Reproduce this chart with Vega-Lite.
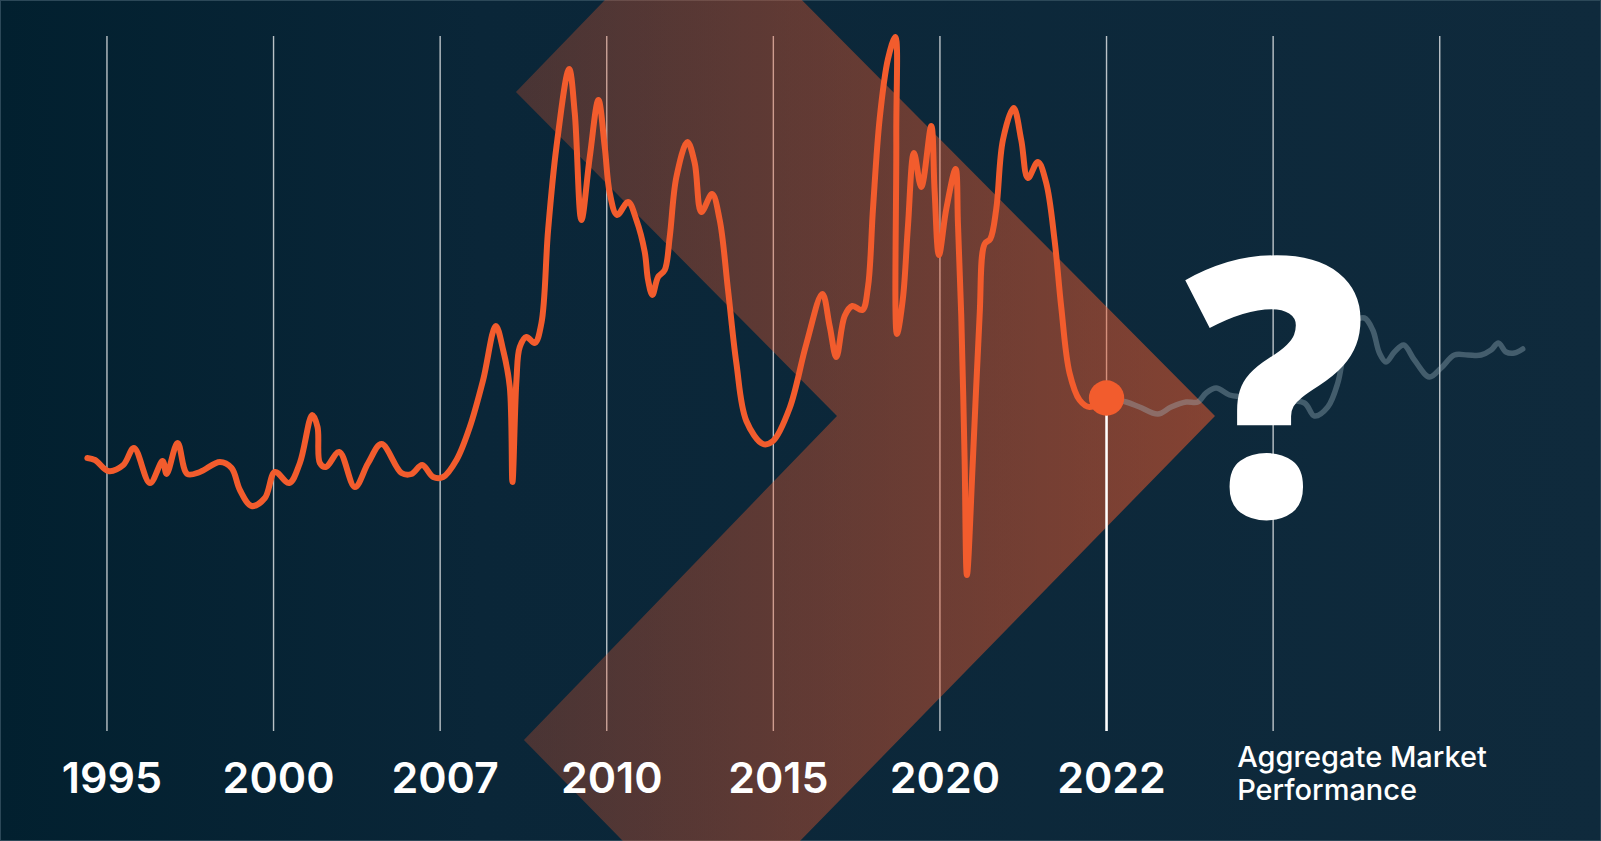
{
  "$schema": "https://vega.github.io/schema/vega-lite/v6.json",
  "width": 1601,
  "height": 841,
  "autosize": {"type": "fit", "contains": "padding"},
  "padding": 0,
  "background": "#0b2638",
  "view": {
    "fill": {"gradient": "linear", "x1": 0, "y1": 0, "x2": 1, "y2": 0,
      "stops": [{"offset": 0, "color": "#02202f"}, {"offset": 0.3, "color": "#0a2638"}, {"offset": 1, "color": "#0f2a3c"}]},
    "stroke": "#2c4858",
    "strokeWidth": 2
  },
  "datasets": {
    "grid": [{"t": 0}, {"t": 100}, {"t": 200}, {"t": 300}, {"t": 400}, {"t": 500}, {"t": 600}, {"t": 700}, {"t": 800}],
    "labels": [
      {"t": 0, "label": "1995"}, {"t": 100, "label": "2000"}, {"t": 200, "label": "2007"},
      {"t": 300, "label": "2010"}, {"t": 400, "label": "2015"}, {"t": 500, "label": "2020"}, {"t": 600, "label": "2022"}
    ],
    "now": [{"t": 600, "v": 44.3}],
    "chevron": [
      {"i": 0, "t": 298.9, "v": 84.1}, {"i": 1, "t": 417.1, "v": 84.1}, {"i": 2, "t": 665.1, "v": 42.5},
      {"i": 3, "t": 416.0, "v": 0}, {"i": 4, "t": 309.7, "v": 0}, {"i": 5, "t": 250.3, "v": 10.1},
      {"i": 6, "t": 438.2, "v": 42.5}, {"i": 7, "t": 245.5, "v": 74.9}, {"i": 8, "t": 298.9, "v": 84.1}
    ],
    "orange": [
      {"t": -11.8, "v": 38.3}, {"t": -7.2, "v": 38.1}, {"t": 0.8, "v": 37.0}, {"t": 9.8, "v": 37.6},
      {"t": 16.2, "v": 39.3}, {"t": 25.8, "v": 35.8}, {"t": 33.4, "v": 38.0}, {"t": 35.8, "v": 36.7},
      {"t": 42.4, "v": 39.8}, {"t": 48.2, "v": 36.7}, {"t": 55.8, "v": 36.9}, {"t": 67.8, "v": 37.9},
      {"t": 74.8, "v": 37.3}, {"t": 79.8, "v": 35.1}, {"t": 86.8, "v": 33.5}, {"t": 94.8, "v": 34.3},
      {"t": 100.8, "v": 36.9}, {"t": 109.4, "v": 35.8}, {"t": 115.8, "v": 37.8}, {"t": 123.2, "v": 42.6},
      {"t": 126.4, "v": 41.4}, {"t": 127.8, "v": 37.8}, {"t": 131.4, "v": 37.4}, {"t": 139.4, "v": 38.9},
      {"t": 148.8, "v": 35.4}, {"t": 156.8, "v": 37.8}, {"t": 164.8, "v": 39.7}, {"t": 176.8, "v": 36.8},
      {"t": 182.8, "v": 36.7}, {"t": 189.2, "v": 37.6}, {"t": 195.8, "v": 36.4}, {"t": 201.8, "v": 36.4},
      {"t": 209.8, "v": 38.1}, {"t": 217.8, "v": 41.4}, {"t": 225.8, "v": 46.1}, {"t": 233.4, "v": 51.5},
      {"t": 237.8, "v": 49.1}, {"t": 241.8, "v": 45.4}, {"t": 243.4, "v": 35.9}, {"t": 245.8, "v": 46.1},
      {"t": 247.8, "v": 49.4}, {"t": 251.8, "v": 50.4}, {"t": 256.8, "v": 49.8}, {"t": 260.8, "v": 51.8},
      {"t": 264.8, "v": 61.1}, {"t": 269.8, "v": 69.4}, {"t": 277.4, "v": 77.2}, {"t": 280.8, "v": 72.8},
      {"t": 284.8, "v": 62.1}, {"t": 289.8, "v": 68.4}, {"t": 295.0, "v": 74.1}, {"t": 298.8, "v": 69.4},
      {"t": 301.8, "v": 64.8}, {"t": 306.2, "v": 62.6}, {"t": 312.8, "v": 63.9}, {"t": 317.8, "v": 62.1},
      {"t": 322.8, "v": 58.9}, {"t": 324.8, "v": 56.1}, {"t": 327.4, "v": 54.6}, {"t": 330.8, "v": 56.4},
      {"t": 334.8, "v": 57.1}, {"t": 337.8, "v": 60.4}, {"t": 341.8, "v": 66.4}, {"t": 348.4, "v": 69.9},
      {"t": 352.8, "v": 67.8}, {"t": 356.8, "v": 62.9}, {"t": 363.2, "v": 64.7}, {"t": 367.8, "v": 62.1},
      {"t": 372.8, "v": 55.1}, {"t": 377.8, "v": 47.8}, {"t": 383.8, "v": 42.0}, {"t": 393.8, "v": 39.7},
      {"t": 399.8, "v": 40.0}, {"t": 409.8, "v": 43.3}, {"t": 419.8, "v": 49.7}, {"t": 429.4, "v": 54.7},
      {"t": 433.8, "v": 51.5}, {"t": 437.8, "v": 48.4}, {"t": 442.8, "v": 52.5}, {"t": 447.4, "v": 53.5},
      {"t": 453.4, "v": 53.1}, {"t": 456.8, "v": 55.4}, {"t": 459.8, "v": 63.2}, {"t": 463.8, "v": 72.2},
      {"t": 468.8, "v": 78.2}, {"t": 473.2, "v": 80.4}, {"t": 473.8, "v": 70.4}, {"t": 474.2, "v": 50.7},
      {"t": 477.8, "v": 54.3}, {"t": 480.8, "v": 61.5}, {"t": 484.4, "v": 68.8}, {"t": 488.8, "v": 65.4},
      {"t": 494.8, "v": 71.5}, {"t": 496.8, "v": 65.0}, {"t": 499.4, "v": 58.6}, {"t": 503.8, "v": 63.2},
      {"t": 509.4, "v": 67.2}, {"t": 510.8, "v": 61.8}, {"t": 512.8, "v": 52.5}, {"t": 514.8, "v": 38.2},
      {"t": 516.2, "v": 26.6}, {"t": 519.8, "v": 38.2}, {"t": 523.8, "v": 52.5}, {"t": 526.8, "v": 59.7},
      {"t": 530.2, "v": 60.2}, {"t": 533.8, "v": 63.2}, {"t": 537.8, "v": 70.1}, {"t": 544.2, "v": 73.3},
      {"t": 548.8, "v": 70.1}, {"t": 552.8, "v": 66.3}, {"t": 558.8, "v": 67.9}, {"t": 563.8, "v": 65.8},
      {"t": 568.8, "v": 60.1}, {"t": 572.8, "v": 53.4}, {"t": 577.8, "v": 46.8}, {"t": 583.8, "v": 44.1},
      {"t": 589.8, "v": 43.4}, {"t": 600, "v": 44.3}
    ],
    "gray": [
      {"t": 600, "v": 44.3}, {"t": 611.8, "v": 43.9}, {"t": 619.8, "v": 43.4}, {"t": 630.8, "v": 42.7},
      {"t": 638.8, "v": 43.4}, {"t": 647.8, "v": 43.9}, {"t": 654.8, "v": 43.9}, {"t": 659.8, "v": 44.8},
      {"t": 665.8, "v": 45.3}, {"t": 673.8, "v": 44.6}, {"t": 681.8, "v": 44.4}, {"t": 703.8, "v": 44.1},
      {"t": 718.8, "v": 43.8}, {"t": 724.8, "v": 42.5}, {"t": 732.8, "v": 43.4}, {"t": 738.8, "v": 45.8},
      {"t": 742.8, "v": 49.1}, {"t": 748.8, "v": 51.9}, {"t": 754.8, "v": 52.3}, {"t": 759.8, "v": 51.1},
      {"t": 763.8, "v": 48.8}, {"t": 767.8, "v": 47.9}, {"t": 772.8, "v": 48.9}, {"t": 778.4, "v": 49.6},
      {"t": 784.8, "v": 48.1}, {"t": 793.8, "v": 46.4}, {"t": 800.8, "v": 47.3}, {"t": 808.8, "v": 48.6},
      {"t": 816.8, "v": 48.6}, {"t": 824.8, "v": 48.6}, {"t": 830.8, "v": 49.1}, {"t": 835.2, "v": 49.8},
      {"t": 839.8, "v": 48.9}, {"t": 844.8, "v": 48.8}, {"t": 849.8, "v": 49.2}
    ]
  },
  "layer": [
    {
      "data": {"name": "grid"},
      "mark": {"type": "rule", "stroke": "#ffffff", "strokeOpacity": 0.72, "strokeWidth": 1.4},
      "encoding": {
        "x": {"field": "t", "type": "quantitative", "axis": null, "scale": {"domain": [-64.2, 896.8], "nice": false, "zero": false}},
        "y": {"datum": 80.5, "type": "quantitative", "axis": null, "scale": {"domain": [0, 84.1], "nice": false, "zero": false}},
        "y2": {"datum": 11.0}
      }
    },
    {
      "data": {"name": "chevron"},
      "mark": {"type": "line", "interpolate": "linear", "strokeWidth": 0, "strokeOpacity": 0,
        "fill": {"gradient": "linear", "x1": 0, "y1": 0, "x2": 1, "y2": 0,
          "stops": [{"offset": 0, "color": "rgba(241,90,43,0.27)"}, {"offset": 1, "color": "rgba(241,90,43,0.52)"}]}},
      "encoding": {
        "x": {"field": "t", "type": "quantitative", "axis": null},
        "y": {"field": "v", "type": "quantitative", "axis": null},
        "order": {"field": "i", "type": "quantitative"}
      }
    },
    {
      "data": {"name": "gray"},
      "mark": {"type": "line", "interpolate": "catmull-rom", "stroke": "#a3bac6", "strokeOpacity": 0.36, "strokeWidth": 5.5, "strokeCap": "round"},
      "encoding": {
        "x": {"field": "t", "type": "quantitative", "axis": null},
        "y": {"field": "v", "type": "quantitative", "axis": null}
      }
    },
    {
      "data": {"name": "grid"},
      "transform": [{"filter": "datum.t == 700"}],
      "mark": {"type": "text", "text": "?", "font": "Open Sans", "fontWeight": 800, "fontSize": 360, "fill": "#ffffff", "align": "center", "baseline": "alphabetic", "dx": 3},
      "encoding": {
        "x": {"field": "t", "type": "quantitative", "axis": null},
        "y": {"datum": 32.5, "type": "quantitative", "axis": null}
      }
    },
    {
      "data": {"name": "now"},
      "mark": {"type": "rule", "stroke": "#ffffff", "strokeWidth": 2.5},
      "encoding": {
        "x": {"field": "t", "type": "quantitative", "axis": null},
        "y": {"field": "v", "type": "quantitative", "axis": null},
        "y2": {"datum": 11.0}
      }
    },
    {
      "data": {"name": "orange"},
      "mark": {"type": "line", "interpolate": "catmull-rom", "stroke": "#f25c2d", "strokeWidth": 6, "strokeCap": "round", "strokeJoin": "round"},
      "encoding": {
        "x": {"field": "t", "type": "quantitative", "axis": null},
        "y": {"field": "v", "type": "quantitative", "axis": null}
      }
    },
    {
      "data": {"name": "now"},
      "mark": {"type": "point", "shape": "circle", "filled": true, "fill": "#f25c2d", "opacity": 1, "size": 1250},
      "encoding": {
        "x": {"field": "t", "type": "quantitative", "axis": null},
        "y": {"field": "v", "type": "quantitative", "axis": null}
      }
    },
    {
      "data": {"name": "labels"},
      "mark": {"type": "text", "font": "Inter", "fontWeight": 600, "fontSize": 43, "fill": "#ffffff", "align": "center", "baseline": "alphabetic", "dx": 5},
      "encoding": {
        "x": {"field": "t", "type": "quantitative", "axis": null},
        "y": {"datum": 4.8, "type": "quantitative", "axis": null},
        "text": {"field": "label"}
      }
    },
    {
      "data": {"name": "grid"},
      "transform": [{"filter": "datum.t == 700"}],
      "mark": {"type": "text", "text": ["Aggregate Market", "Performance"], "font": "Inter", "fontWeight": 500, "fontSize": 29, "lineHeight": 33, "fill": "#ffffff", "align": "left", "baseline": "alphabetic", "dx": -36},
      "encoding": {
        "x": {"field": "t", "type": "quantitative", "axis": null},
        "y": {"datum": 7.4, "type": "quantitative", "axis": null}
      }
    }
  ]
}
